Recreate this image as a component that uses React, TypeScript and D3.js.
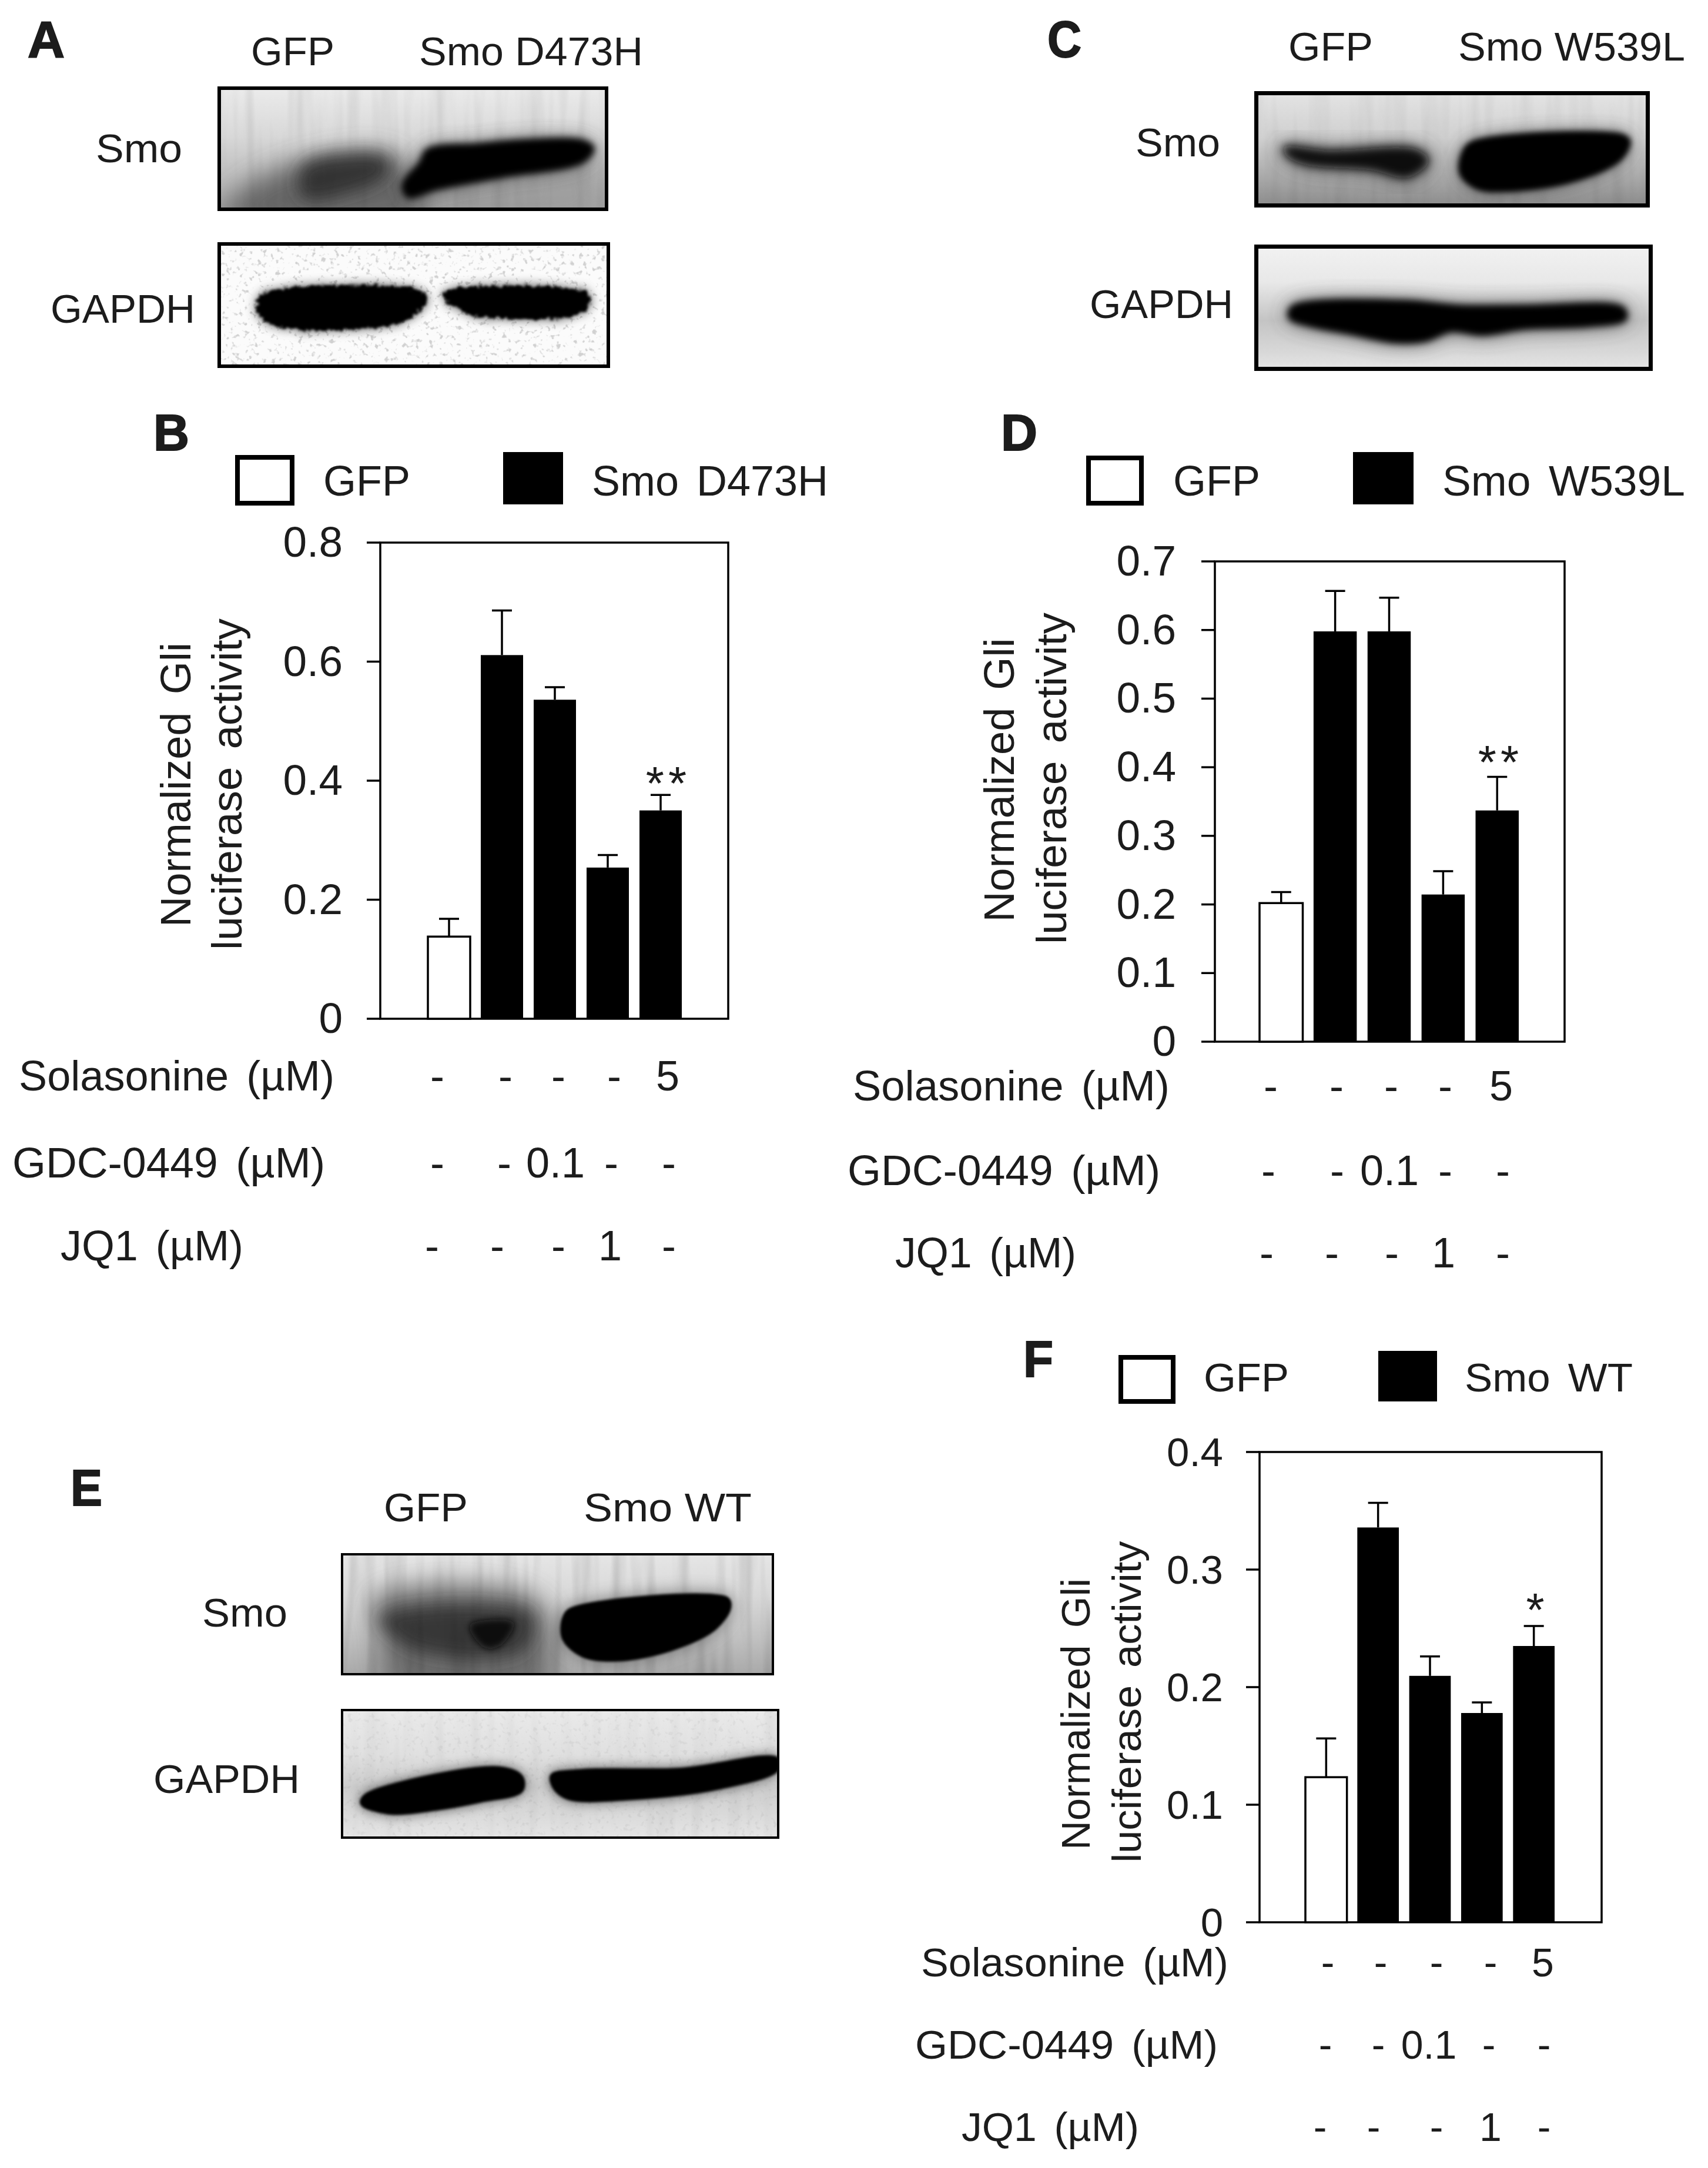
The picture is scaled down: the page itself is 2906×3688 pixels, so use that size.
import React from 'react';
import * as d3 from 'd3';

// ---------- data ----------
const treatments = ['GFP', 'Smo', 'GDC-0449', 'JQ1', 'Solasonine'];
const solasonineRow = ['-', '-', '-', '-', '5'];
const gdcRow = ['-', '-', '0.1', '-', '-'];
const jq1Row = ['-', '-', '-', '1', '-'];

const d473hValues = [0.138, 0.611, 0.536, 0.254, 0.35];
const d473hErrors = [0.03, 0.075, 0.021, 0.021, 0.026];
const d473hTicks = [0, 0.2, 0.4, 0.6, 0.8];

const w539lValues = [0.202, 0.598, 0.598, 0.2145, 0.337];
const w539lErrors = [0.016, 0.059, 0.049, 0.034, 0.049];
const w539lTicks = [0, 0.1, 0.2, 0.3, 0.4, 0.5, 0.6, 0.7];

const wtValues = [0.1234, 0.3358, 0.2096, 0.178, 0.235];
const wtErrors = [0.033, 0.021, 0.0165, 0.009, 0.017];
const wtTicks = [0, 0.1, 0.2, 0.3, 0.4];

// ---------- layout ----------
const FONT = '"Liberation Sans", Arial, sans-serif';
const INK = '#1c1c1c';
const WORD_GAP = 10;

type Row = { label: string; x1: number; x2: number; base: number; xs: number[]; vals: string[] };

const panels = [
  {
    values: d473hValues, errors: d473hErrors, ticks: d473hTicks, max: 0.8, stars: '**',
    L: 647, R: 1239, T: 923, B: 1733, barL: 728, barR: 1160, tickR: 583, font: 72,
    starX: 1137, starY: 1321,
    legend: { wx: [400, 501], wy: [774, 860], bx: [856, 958], by: [769, 858], gx: [553, 695], base: 843, name: 'Smo D473H', nx: [1010, 1406] },
    yl: { t1: 'Normalized Gli', b1: 324, c1: 1335, l1: 484, b2: 411, c2: 1334, l2: 564 },
    rows: [
      { label: 'Solasonine (µM)', x1: 35, x2: 566, base: 1855, xs: [744, 860, 950, 1045, 1136], vals: solasonineRow },
      { label: 'GDC-0449 (µM)', x1: 24, x2: 550, base: 2003, xs: [744, 858, 945, 1040, 1138], vals: gdcRow },
      { label: 'JQ1 (µM)', x1: 106, x2: 411, base: 2144, xs: [735, 846, 950, 1038, 1138], vals: jq1Row },
    ] as Row[],
  },
  {
    values: w539lValues, errors: w539lErrors, ticks: w539lTicks, max: 0.7, stars: '**',
    L: 2067, R: 2662, T: 955, B: 1772, barL: 2143, barR: 2584, tickR: 2001, font: 72,
    starX: 2553, starY: 1285,
    legend: { wx: [1848, 1946], wy: [775, 860], bx: [2302, 2405], by: [769, 858], gx: [1999, 2141], base: 843, name: 'Smo W539L', nx: [2457, 2864] },
    yl: { t1: 'Normalized Gli', b1: 1725, c1: 1327, l1: 483, b2: 1814, c2: 1324, l2: 564 },
    rows: [
      { label: 'Solasonine (µM)', x1: 1454, x2: 1987, base: 1872, xs: [2162, 2274, 2367, 2459, 2554], vals: solasonineRow },
      { label: 'GDC-0449 (µM)', x1: 1445, x2: 1971, base: 2016, xs: [2158, 2275, 2364, 2459, 2557], vals: gdcRow },
      { label: 'JQ1 (µM)', x1: 1526, x2: 1828, base: 2156, xs: [2155, 2266, 2368, 2456, 2557], vals: jq1Row },
    ] as Row[],
  },
  {
    values: wtValues, errors: wtErrors, ticks: wtTicks, max: 0.4, stars: '*',
    L: 2143, R: 2725, T: 2470, B: 3270, barL: 2221, barR: 2645, tickR: 2081, font: 68,
    starX: 2612, starY: 2727,
    legend: { wx: [1903, 2000], wy: [2305, 2388], bx: [2345, 2445], by: [2298, 2384], gx: [2051, 2190], base: 2367, name: 'Smo WT', nx: [2495, 2775] },
    yl: { t1: 'Normalized Gli', b1: 1854, c1: 2916, l1: 462, b2: 1941, c2: 2895, l2: 547 },
    rows: [
      { label: 'Solasonine (µM)', x1: 1570, x2: 2087, base: 3362, xs: [2259, 2349, 2444, 2536, 2625], vals: solasonineRow },
      { label: 'GDC-0449 (µM)', x1: 1560, x2: 2069, base: 3502, xs: [2255, 2345, 2431, 2533, 2627], vals: gdcRow },
      { label: 'JQ1 (µM)', x1: 1639, x2: 1935, base: 3642, xs: [2246, 2337, 2444, 2536, 2627], vals: jq1Row },
    ] as Row[],
  },
];

const letters = [
  { t: 'A', x1: 50, x2: 107, base: 97 },
  { t: 'B', x1: 264, x2: 319, base: 766 },
  { t: 'C', x1: 1785, x2: 1837, base: 97 },
  { t: 'D', x1: 1706, x2: 1762, base: 766 },
  { t: 'E', x1: 123, x2: 171, base: 2561 },
  { t: 'F', x1: 1744, x2: 1789, base: 2342 },
];

const blotLabels = [
  { t: 'GFP', x1: 430, x2: 566, base: 111 },
  { t: 'Smo D473H', x1: 716, x2: 1091, base: 111 },
  { t: 'Smo', x1: 166, x2: 307, base: 276 },
  { t: 'GAPDH', x1: 89, x2: 329, base: 549 },
  { t: 'GFP', x1: 2195, x2: 2333, base: 103 },
  { t: 'Smo W539L', x1: 2484, x2: 2864, base: 103 },
  { t: 'Smo', x1: 1935, x2: 2073, base: 266 },
  { t: 'GAPDH', x1: 1857, x2: 2095, base: 541 },
  { t: 'GFP', x1: 656, x2: 793, base: 2588 },
  { t: 'Smo WT', x1: 996, x2: 1276, base: 2588 },
  { t: 'Smo', x1: 347, x2: 486, base: 2767 },
  { t: 'GAPDH', x1: 264, x2: 507, base: 3050 },
];

type Pt = [number, number];
type Blob = { pts: Pt[]; fill: string; blur: number; op?: number; grow?: number; rough?: boolean };
type BlotDef = { x: number[]; y: number[]; sw: number; stops: [number, string][]; blobs: Blob[]; speckle?: number; streak?: number };

const aSmoStrong: Pt[] = [[.539, .517], [.667, .477], [.778, .447], [.933, .447], [.958, .497], [.933, .596], [.722, .716], [.556, .815], [.489, .875], [.478, .795], [.522, .616]];
const aSmoWeak: Pt[] = [[.222, .656], [.333, .567], [.433, .596], [.422, .716], [.333, .835], [.222, .875]];
const aGapdh1: Pt[] = [[.122, .406], [.521, .396], [.532, .465], [.476, .622], [.321, .691], [.177, .682], [.111, .594], [.100, .504]];
const aGapdh2: Pt[] = [[.587, .386], [.941, .406], [.947, .484], [.914, .573], [.659, .582], [.604, .513], [.576, .425]];
const cSmoWeak: Pt[] = [[.077, .494], [.188, .526], [.409, .515], [.436, .600], [.387, .728], [.298, .664], [.133, .621], [.088, .557]];
const cSmoStrong: Pt[] = [[.552, .451], [.928, .387], [.945, .430], [.923, .579], [.796, .770], [.630, .845], [.564, .823], [.525, .706], [.530, .536]];
const cGapdh: Pt[] = [[.099, .502], [.373, .463], [.516, .502], [.680, .502], [.922, .512], [.928, .580], [.835, .629], [.680, .648], [.571, .697], [.494, .668], [.428, .746], [.351, .756], [.241, .688], [.143, .629], [.092, .570]];
const eSmoHaze: Pt[] = [[.075, .36], [.457, .39], [.46, 1.15], [.12, 1.15], [.085, .617]];
const eSmoMid: Pt[] = [[.09, .52], [.44, .5], [.42, .8], [.16, .78]];
const eSmoSpot: Pt[] = [[.300, .596], [.396, .574], [.368, .746], [.334, .768]];
const eSmoStrong: Pt[] = [[.532, .456], [.892, .370], [.898, .445], [.864, .617], [.763, .789], [.639, .875], [.560, .843], [.514, .703], [.514, .531]];
const eGapdh1: Pt[] = [[.052, .673], [.130, .572], [.363, .451], [.413, .521], [.413, .632], [.319, .713], [.219, .774], [.108, .804], [.047, .733]];
const eGapdh2: Pt[] = [[.480, .511], [.552, .471], [.774, .461], [.996, .380], [.996, .471], [.863, .612], [.663, .693], [.519, .693], [.486, .612]];
const aHazeLeft: Pt[] = [[.01, 1.05], [.12, .72], [.45, .56], [.52, 1.05]];
const aHazeRight: Pt[] = [[.5, 1.05], [.5, .7], [.95, .55], [.98, 1.05]];

const blots: BlotDef[] = [
  {
    x: [370, 1035], y: [147, 359], sw: 6, streak: 0.16,
    stops: [[0, '#ececec'], [0.4, '#d8d8d8'], [0.75, '#bbbbbb'], [1, '#a8a8a8']],
    blobs: [
      { pts: aHazeRight, fill: '#999', blur: 22, op: .75 },
      { pts: aHazeLeft, fill: '#5c5c5c', blur: 22, op: .85 },
      { pts: aSmoWeak, fill: '#2c2c2c', blur: 14, op: .85, grow: 10 },
      { pts: aSmoStrong, fill: '#444', blur: 16, op: .8, grow: 8 },
      { pts: aSmoStrong, fill: '#000', blur: 6, grow: 9 },
    ],
  },
  {
    x: [370, 1038], y: [412, 626], sw: 6, speckle: 0.55,
    stops: [[0, '#fbfbfb'], [1, '#fbfbfb']],
    blobs: [
      { pts: aGapdh1, fill: '#555', blur: 8, op: .75, grow: 8, rough: true },
      { pts: aGapdh2, fill: '#555', blur: 8, op: .75, grow: 8, rough: true },
      { pts: aGapdh1, fill: '#000', blur: 2, grow: 2, rough: true },
      { pts: aGapdh2, fill: '#000', blur: 2, grow: 2, rough: true },
    ],
  },
  {
    x: [2134, 2807], y: [155, 353], sw: 7, streak: 0.12,
    stops: [[0, '#e4e4e4'], [0.4, '#d0d0d0'], [0.75, '#a8a8a8'], [1, '#8a8a8a']],
    blobs: [
      { pts: cSmoWeak, fill: '#444', blur: 16, op: .85, grow: 16 },
      { pts: cSmoWeak, fill: '#111', blur: 8, grow: 6 },
      { pts: cSmoStrong, fill: '#444', blur: 14, op: .8, grow: 10 },
      { pts: cSmoStrong, fill: '#000', blur: 5, grow: 9 },
    ],
  },
  {
    x: [2134, 2812], y: [416, 631], sw: 7,
    stops: [[0, '#f2f2f2'], [0.3, '#e8e8e8'], [0.6, '#c4c4c4'], [0.85, '#d8d8d8'], [1, '#e6e6e6']],
    blobs: [
      { pts: cGapdh, fill: '#444', blur: 16, op: .8, grow: 14 },
      { pts: cGapdh, fill: '#000', blur: 6, grow: 11 },
    ],
  },
  {
    x: [580, 1317], y: [2642, 2850], sw: 4, streak: 0.3,
    stops: [[0, '#e6e6e6'], [0.35, '#d8d8d8'], [0.7, '#c0c0c0'], [1, '#a8a8a8']],
    blobs: [
      { pts: eSmoHaze, fill: '#666', blur: 22, op: .9 },
      { pts: eSmoMid, fill: '#2e2e2e', blur: 14, op: .85 },
      { pts: eSmoSpot, fill: '#0c0c0c', blur: 6, grow: 4 },
      { pts: eSmoStrong, fill: '#555', blur: 14, op: .7, grow: 8 },
      { pts: eSmoStrong, fill: '#000', blur: 2, grow: 5 },
    ],
  },
  {
    x: [580, 1326], y: [2907, 3128], sw: 4, speckle: 0.15, streak: 0.08,
    stops: [[0, '#eaeaea'], [0.35, '#e0e0e0'], [0.6, '#cccccc'], [1, '#e6e6e6']],
    blobs: [
      { pts: eGapdh1, fill: '#555', blur: 9, op: .7, grow: 10 },
      { pts: eGapdh2, fill: '#555', blur: 9, op: .7, grow: 10 },
      { pts: eGapdh1, fill: '#000', blur: 2, grow: 4 },
      { pts: eGapdh2, fill: '#000', blur: 2, grow: 4 },
    ],
  },
];

const blurLevels = [2, 5, 6, 8, 9, 14, 16, 22];

// ---------- drawing ----------
function Txt({ x1, x2, y, size, children, weight, gap, sw }: any) {
  return (
    <text x={x1 - 3} y={y} fontSize={size} fontWeight={weight} textLength={x2 - x1 + 6} lengthAdjust="spacingAndGlyphs"
      style={{ wordSpacing: gap ?? 0 }} fontFamily={FONT} fill={INK} stroke={sw ? INK : 'none'} strokeWidth={sw ?? 0}>{children}</text>
  );
}

function Blot({ def, id }: { def: BlotDef; id: number }) {
  const { x, y, sw, stops, blobs, speckle, streak } = def;
  const fx = d3.scaleLinear().domain([0, 1]).range(x);
  const fy = d3.scaleLinear().domain([0, 1]).range(y);
  const outline = d3.line<Pt>().x(d => fx(d[0])).y(d => fy(d[1])).curve(d3.curveCatmullRomClosed.alpha(0.5));
  const w = x[1] - x[0];
  const h = y[1] - y[0];
  return (
    <g>
      <defs>
        <linearGradient id={`bg${id}`} x1="0" y1="0" x2="0" y2="1">
          {stops.map(([o, c]) => <stop key={o} offset={o} stopColor={c} />)}
        </linearGradient>
        <clipPath id={`clip${id}`}><rect x={x[0]} y={y[0]} width={w} height={h} /></clipPath>
      </defs>
      <g clipPath={`url(#clip${id})`}>
        <rect x={x[0]} y={y[0]} width={w} height={h} fill={`url(#bg${id})`} />
        {blobs.map((b, i) => (
          <path key={i} d={outline(b.pts) as string} fill={b.fill} opacity={b.op ?? 1}
            stroke={b.grow ? b.fill : 'none'} strokeWidth={b.grow ?? 0} strokeLinejoin="round"
            filter={`url(#${b.rough ? 'rough' : 'blur'}${b.blur})`} />
        ))}
        {streak ? <rect x={x[0]} y={y[0]} width={w} height={h} filter="url(#streak)" opacity={streak} style={{ mixBlendMode: 'multiply' }} /> : null}
        {speckle ? <rect x={x[0]} y={y[0]} width={w} height={h} filter="url(#speckle)" opacity={speckle} style={{ mixBlendMode: 'multiply' }} /> : null}
      </g>
      <rect x={x[0] + sw / 2} y={y[0] + sw / 2} width={w - sw} height={h - sw} fill="none" stroke="#000" strokeWidth={sw} />
    </g>
  );
}

function BarPanel({ p }: { p: (typeof panels)[number] }) {
  const y = d3.scaleLinear().domain([0, p.max]).range([p.B, p.T]);
  const x = d3.scaleBand<string>().domain(treatments).range([p.barL, p.barR]).paddingInner(0.2);
  const fmt = (v: number) => (v === 0 ? '0' : d3.format('.1f')(v));
  const bw = x.bandwidth();
  const lg = p.legend;
  const capW = 34;
  return (
    <g>
      {/* legend */}
      <rect x={lg.wx[0] + 4} y={lg.wy[0] + 4} width={lg.wx[1] - lg.wx[0] - 8} height={lg.wy[1] - lg.wy[0] - 8} fill="#fff" stroke="#000" strokeWidth={8} />
      <rect x={lg.bx[0]} y={lg.by[0]} width={lg.bx[1] - lg.bx[0]} height={lg.by[1] - lg.by[0]} fill="#000" />
      <Txt x1={lg.gx[0]} x2={lg.gx[1]} y={lg.base} size={p.font}>GFP</Txt>
      <Txt x1={lg.nx[0]} x2={lg.nx[1]} y={lg.base} size={p.font} gap={WORD_GAP}>{lg.name}</Txt>

      {/* frame and ticks */}
      <rect x={p.L} y={p.T} width={p.R - p.L} height={p.B - p.T} fill="none" stroke="#000" strokeWidth={3.5} />
      {p.ticks.map(t => (
        <g key={t}>
          <line x1={p.L - 23} x2={p.L} y1={y(t)} y2={y(t)} stroke="#000" strokeWidth={3.5} />
          <text x={p.tickR} y={y(t) + 24} textAnchor="end" fontSize={p.font + 1} fontFamily={FONT} fill={INK}>{fmt(t)}</text>
        </g>
      ))}

      {/* bars */}
      {p.values.map((v, i) => {
        const cx = (x(treatments[i]) as number) + bw / 2;
        const top = y(v + p.errors[i]);
        return (
          <g key={i}>
            <line x1={cx} x2={cx} y1={y(v)} y2={top} stroke="#000" strokeWidth={3.5} />
            <line x1={cx - capW / 2} x2={cx + capW / 2} y1={top} y2={top} stroke="#000" strokeWidth={3.5} />
            <rect x={x(treatments[i])} y={y(v)} width={bw} height={p.B - y(v)} fill={i === 0 ? '#fff' : '#000'} stroke="#000" strokeWidth={i === 0 ? 3.5 : 0} />
          </g>
        );
      })}
      <text x={p.starX} y={p.starY + 39} textAnchor="middle" fontSize={80} fontFamily={FONT} fill={INK} letterSpacing={p.stars.length > 1 ? 7 : 0}>{p.stars}</text>

      {/* y label */}
      <text transform={`translate(${p.yl.b1},${p.yl.c1}) rotate(-90)`} textAnchor="middle" fontSize={p.font} fontFamily={FONT} fill={INK}
        textLength={p.yl.l1} lengthAdjust="spacingAndGlyphs" style={{ wordSpacing: WORD_GAP }}>{p.yl.t1}</text>
      <text transform={`translate(${p.yl.b2},${p.yl.c2}) rotate(-90)`} textAnchor="middle" fontSize={p.font} fontFamily={FONT} fill={INK}
        textLength={p.yl.l2} lengthAdjust="spacingAndGlyphs" style={{ wordSpacing: WORD_GAP }}>luciferase activity</text>

      {/* treatment rows */}
      {p.rows.map(r => (
        <g key={r.label}>
          <Txt x1={r.x1} x2={r.x2} y={r.base} size={p.font} gap={WORD_GAP}>{r.label}</Txt>
          {r.vals.map((v, i) => (
            <text key={i} x={r.xs[i]} y={r.base} textAnchor="middle" fontSize={p.font} fontFamily={FONT} fill={INK}>{v}</text>
          ))}
        </g>
      ))}
    </g>
  );
}

export default function App() {
  return (
    <svg width={2906} height={3688} viewBox="0 0 2906 3688" style={{ position: 'absolute', left: 0, top: 0, background: '#fff' }}>
      <defs>
        {blurLevels.map(s => (
          <filter key={s} id={`blur${s}`} x="-40%" y="-60%" width="180%" height="220%">
            <feGaussianBlur stdDeviation={s} />
          </filter>
        ))}
        {[2, 8].map(s => (
          <filter key={s} id={`rough${s}`} x="-20%" y="-60%" width="140%" height="220%">
            <feTurbulence type="fractalNoise" baseFrequency="0.14" numOctaves={2} seed={4} result="n" />
            <feDisplacementMap in="SourceGraphic" in2="n" scale={14} xChannelSelector="R" yChannelSelector="G" />
            <feGaussianBlur stdDeviation={s} />
          </filter>
        ))}
        <filter id="speckle" x="0" y="0" width="1" height="1">
          <feTurbulence type="fractalNoise" baseFrequency="0.13" numOctaves={2} seed={7} />
          <feColorMatrix type="matrix" values="0 0 0 0 0.45  0 0 0 0 0.45  0 0 0 0 0.45  6 0 0 0 -3.5" />
        </filter>
        <filter id="streak" x="0" y="0" width="1" height="1">
          <feTurbulence type="fractalNoise" baseFrequency="0.05 0.004" numOctaves={2} seed={11} />
          <feColorMatrix type="matrix" values="0 0 0 0 0.3  0 0 0 0 0.3  0 0 0 0 0.3  2.2 0 0 0 -0.95" />
        </filter>
      </defs>
      <rect x={0} y={0} width={2906} height={3688} fill="#fff" />
      {blots.map((b, i) => <Blot key={i} def={b} id={i} />)}
      {blotLabels.map((l, i) => <Txt key={i} x1={l.x1} x2={l.x2} y={l.base} size={68}>{l.t}</Txt>)}
      {letters.map(l => <Txt key={l.t} x1={l.x1} x2={l.x2} y={l.base} size={88} weight="bold" sw={2}>{l.t}</Txt>)}
      {panels.map((p, i) => <BarPanel key={i} p={p} />)}
    </svg>
  );
}
